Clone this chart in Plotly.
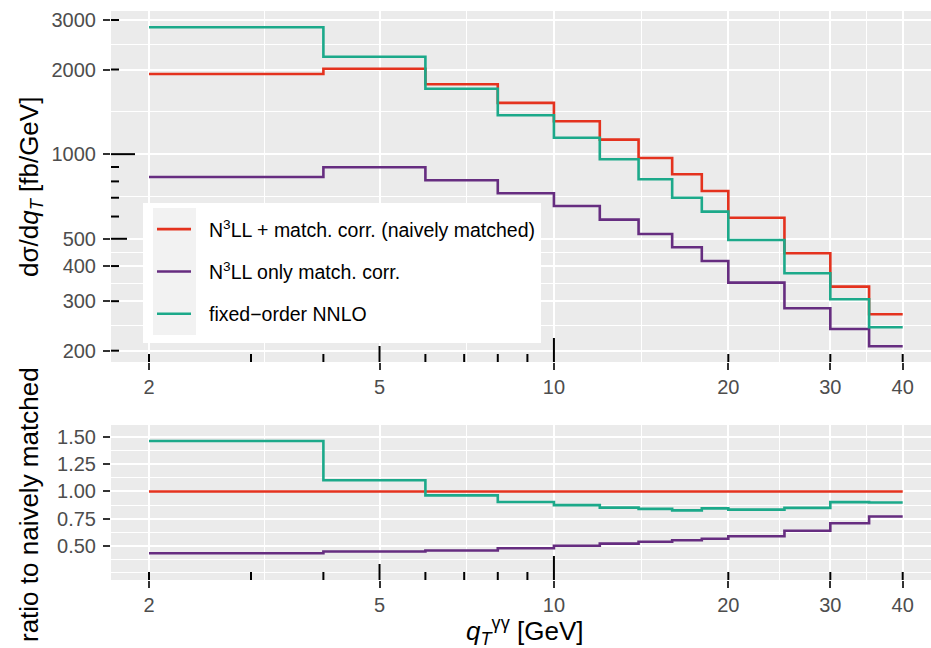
import numpy as np
import plotly.graph_objects as go

# qT bin edges [GeV]
qt_edges = [2, 4, 6, 8, 10, 12, 14, 16, 18, 20, 25, 30, 35, 40]

# differential cross sections per bin [fb/GeV]
naively_matched = [1928, 2013, 1772, 1522, 1309, 1126, 969, 848, 739.6, 594.3, 444.0, 337.9, 269.5]
only_match_corr = [829.5, 898.4, 807.4, 726.4, 654.1, 584.8, 520.1, 466.6, 417.0, 349.1, 283.0, 238.9, 207.4]
fixed_order_nnlo = [2826, 2221, 1709, 1375, 1144, 958.7, 814, 700, 624.4, 495.2, 377.0, 304.8, 242.3]

series_labels = [
    "N<sup>3</sup>LL + match. corr. (naively matched)",
    "N<sup>3</sup>LL only match. corr.",
    "fixed\u2212order NNLO",
]
series_values = [naively_matched, only_match_corr, fixed_order_nnlo]
series_colors = ["#E4321E", "#662D80", "#1CA98A"]

# axis breaks
x_breaks = [2, 5, 10, 20, 30, 40]
x_break_labels = ["2", "5", "10", "20", "30", "40"]
y_breaks = [200, 300, 400, 500, 1000, 2000, 3000]
y_break_labels = ["200", "300", "400", "500", "1000", "2000", "3000"]
ratio_breaks = [0.50, 0.75, 1.00, 1.25, 1.50]
ratio_break_labels = ["0.50", "0.75", "1.00", "1.25", "1.50"]
ratio_minor = [0.25, 0.375, 0.625, 0.875, 1.125, 1.375]

# log-tick decoration positions
logticks_x = [2, 3, 4, 5, 6, 7, 8, 9, 10, 20, 30, 40]
logticks_y = [200, 300, 400, 500, 600, 700, 800, 900, 1000, 2000, 3000]

# ---- page geometry (pixels)
W, H = 931, 648
ML, MR, MT, MB = 111, 0, 11, 68
PW, PH = W - ML - MR, H - MT - MB
TOP_PANEL = (11, 362)      # y pixel extent of upper panel
BOT_PANEL = (425, 580)     # y pixel extent of lower panel


def px(x):
    return (x - ML) / PW


def py(y):
    return (H - MB - y) / PH


def geo_mid(v):
    v = np.asarray(v, dtype=float)
    return list(np.sqrt(v[:-1] * v[1:]))


FONT = "Liberation Sans, Arial, sans-serif"
TICK_FONT = dict(family=FONT, size=20, color="#4D4D4D")
GRID = "white"
BG = "#EBEBEB"

fig = go.Figure()


def step(vals):
    return list(vals) + [vals[-1]]


# upper panel: absolute distributions
for vals, col, name in zip(series_values, series_colors, series_labels):
    fig.add_trace(go.Scatter(
        x=qt_edges, y=step(vals), mode="lines", line=dict(color=col, width=2.6, shape="hv"),
        name=name, showlegend=False, xaxis="x", yaxis="y"))

# lower panel: ratio to the naively matched result
ref = np.asarray(naively_matched, dtype=float)
for vals, col, name in zip(series_values, series_colors, series_labels):
    ratio = list(np.asarray(vals, dtype=float) / ref)
    fig.add_trace(go.Scatter(
        x=qt_edges, y=step(ratio), mode="lines", line=dict(color=col, width=2.6, shape="hv"),
        name=name, showlegend=False, xaxis="x2", yaxis="y2"))

x_range = [np.log10(2) - 38 / 579.3, np.log10(40) + 28.3 / 579.3]

common_x = dict(
    type="log", range=x_range, domain=[0, 1],
    tickmode="array", tickvals=x_breaks, ticktext=x_break_labels,
    ticks="outside", ticklen=7, tickwidth=2, tickcolor="#333333",
    tickfont=TICK_FONT, showgrid=True, gridcolor=GRID, gridwidth=2,
    minor=dict(tickmode="array", tickvals=geo_mid(x_breaks), showgrid=True,
               gridcolor=GRID, gridwidth=1.1, ticks=""),
    zeroline=False, showline=False,
)

common_y = dict(
    ticks="outside", ticklen=7, tickwidth=2, tickcolor="#333333",
    tickfont=TICK_FONT, showgrid=True, gridcolor=GRID, gridwidth=2,
    ticklabelstandoff=3, zeroline=False, showline=False, tickmode="array",
)

fig.update_layout(
    width=W, height=H,
    margin=dict(l=ML, r=MR, t=MT, b=MB, pad=0),
    paper_bgcolor="white", plot_bgcolor=BG,
    showlegend=False,
    xaxis=dict(common_x, anchor="y"),
    xaxis2=dict(common_x, anchor="y2"),
    yaxis=dict(
        common_y,
        type="log", range=[2.2608, 3.5091], domain=[py(TOP_PANEL[1]), py(TOP_PANEL[0])], anchor="x",
        tickvals=y_breaks, ticktext=y_break_labels,
        minor=dict(tickmode="array", tickvals=geo_mid(y_breaks), showgrid=True,
                   gridcolor=GRID, gridwidth=1.1, ticks=""),
    ),
    yaxis2=dict(
        common_y,
        range=[0.184, 1.613], domain=[py(BOT_PANEL[1]), py(BOT_PANEL[0])], anchor="x2",
        tickvals=ratio_breaks, ticktext=ratio_break_labels,
        minor=dict(tickmode="array", tickvals=ratio_minor, showgrid=True,
                   gridcolor=GRID, gridwidth=1.1, ticks=""),
    ),
)

shapes = []


def tick_len(v):
    m = v / 10 ** np.floor(np.log10(v) + 1e-9)
    if abs(m - 1) < 1e-6:
        return 24
    if abs(m - 5) < 1e-6:
        return 16
    return 8


# log ticks along the bottom of both panels
for xa, ya in (("x", "y domain"), ("x2", "y2 domain")):
    for v in logticks_x:
        shapes.append(dict(type="line", xref=xa, x0=v, x1=v, yref=ya, ysizemode="pixel",
                           yanchor=0, y0=0, y1=tick_len(v),
                           line=dict(color="black", width=2), layer="above"))
# log ticks along the left side of the upper panel
for v in logticks_y:
    shapes.append(dict(type="line", yref="y", y0=v, y1=v, xref="x domain", xsizemode="pixel",
                       xanchor=0, x0=0, x1=tick_len(v),
                       line=dict(color="black", width=2), layer="above"))

# legend box
LEG = dict(x0=143, x1=541, y0=203, y1=343)
KEY = dict(x0=153, x1=196)
KEY_H = 42.3
KEY_TOP = 208
shapes.append(dict(type="rect", xref="paper", yref="paper",
                   x0=px(LEG["x0"]), x1=px(LEG["x1"]), y0=py(LEG["y1"]), y1=py(LEG["y0"]),
                   fillcolor="white", line=dict(width=0), layer="above"))
shapes.append(dict(type="rect", xref="paper", yref="paper",
                   x0=px(KEY["x0"]), x1=px(KEY["x1"]), y0=py(KEY_TOP + 3 * KEY_H), y1=py(KEY_TOP),
                   fillcolor="#F2F2F2", line=dict(width=0), layer="above"))

annotations = []
for i, (col, name) in enumerate(zip(series_colors, series_labels)):
    yc = KEY_TOP + (i + 0.5) * KEY_H
    shapes.append(dict(type="line", xref="paper", yref="paper",
                       x0=px(157), x1=px(191), y0=py(yc), y1=py(yc),
                       line=dict(color=col, width=2.6), layer="above"))
    annotations.append(dict(xref="paper", yref="paper", x=px(207), y=py(yc),
                            xanchor="left", yanchor="middle", showarrow=False, text=name,
                            font=dict(family=FONT, size=19.5, color="black")))

# axis titles
TITLE_FONT = dict(family=FONT, size=26, color="black")
annotations.append(dict(xref="paper", yref="paper", x=px(30), y=py(187), textangle=-90,
                        xanchor="center", yanchor="middle", showarrow=False,
                        text="d\u03c3/d<i>q</i><sub><i>T</i></sub> [fb/GeV]", font=TITLE_FONT))
annotations.append(dict(xref="paper", yref="paper", x=px(29), y=py(505), textangle=-90,
                        xanchor="center", yanchor="middle", showarrow=False,
                        text="ratio to naively matched", font=TITLE_FONT))
annotations.append(dict(xref="paper", yref="paper", x=px(524), y=py(631),
                        xanchor="center", yanchor="middle", showarrow=False,
                        text="<i>q</i><sub><i>T</i></sub><sup>\u03b3\u03b3</sup> [GeV]", font=TITLE_FONT))

fig.update_layout(shapes=shapes, annotations=annotations)

fig.write_html("out.html")
